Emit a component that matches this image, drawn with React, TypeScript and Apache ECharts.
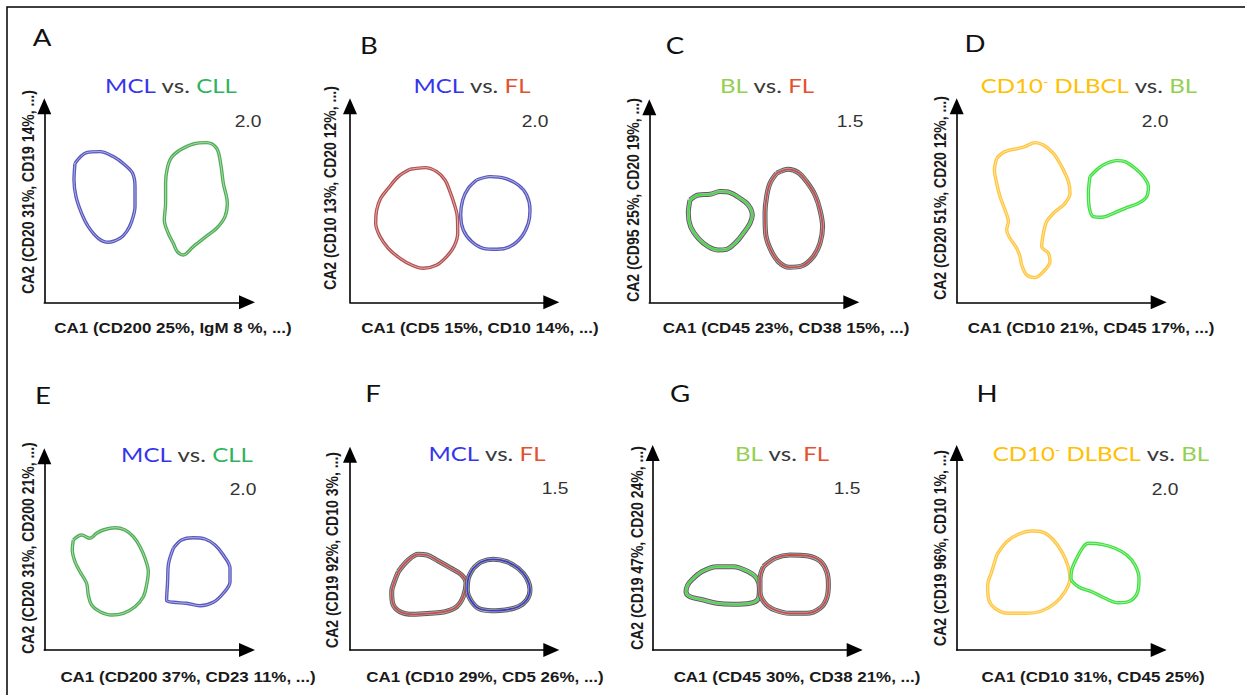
import React, { useEffect, useRef } from 'react';
import * as echarts from 'echarts';

// ---------- DATA ----------
const panelLetters = ['A', 'B', 'C', 'D', 'E', 'F', 'G', 'H'];
const panelRatios = ['2.0', '2.0', '1.5', '2.0', '2.0', '1.5', '1.5', '2.0'];
const titleLeft = ['MCL', 'MCL', 'BL', 'DLBCL', 'MCL', 'MCL', 'BL', 'DLBCL'];
const titleRight = ['CLL', 'FL', 'FL', 'BL', 'CLL', 'FL', 'FL', 'BL'];
const xAxisTitles = [
  'CA1 (CD200 25%, IgM 8 %, ...)',
  'CA1 (CD5 15%, CD10 14%, ...)',
  'CA1 (CD45 23%, CD38 15%, ...)',
  'CA1 (CD10 21%, CD45 17%, ...)',
  'CA1 (CD200 37%, CD23 11%, ...)',
  'CA1 (CD10 29%, CD5 26%, ...)',
  'CA1 (CD45 30%, CD38 21%, ...)',
  'CA1 (CD10 31%, CD45 25%)',
];
const yAxisTitles = [
  'CA2 (CD20 31%, CD19 14%, ...)',
  'CA2 (CD10 13%, CD20 12%, ...)',
  'CA2 (CD95 25%, CD20 19%, ...)',
  'CA2 (CD20 51%, CD20 12%, ...)',
  'CA2 (CD20 31%, CD200 21%, ...)',
  'CA2 (CD19 92%, CD10 3%, ...)',
  'CA2 (CD19 47%, CD20 24%, ...)',
  'CA2 (CD19 96%, CD10 1%, ...)',
];

// contour outlines (CA1, CA2) per panel
const aMCL = [[30.7,139],[42.3,149.7],[55.7,150.7],[69,145.7],[80.7,137.3],[88.3,129],[90.7,115.7],[90.7,95.7],[87.3,80.7],[82.3,70.7],[75.7,64],[64,60],[54,64],[44,75.7],[37.3,89],[31.7,105.7],[29.7,122.3]];
const aCLL = [[135.7,152.3],[149,158.3],[162.3,159.7],[172.3,154],[176.3,139],[179,119],[183,99],[180.7,85.7],[172.3,74],[160.7,65],[149,55.7],[139,47.3],[133,50.7],[129,59],[124,69],[120,82.3],[121.3,99],[121.3,119],[123,134],[127.3,145]];
const bFL = [[60,133],[75,134.7],[86.7,130.7],[95,122.3],[100,110.7],[104,99],[107.3,85.7],[107.7,69],[104,55.7],[96.7,45.7],[86.7,37.3],[73.3,34],[61.7,37.3],[50,44],[38.3,54],[30,65.7],[25.7,79],[26.7,92.3],[30.7,104],[38.3,114],[48.3,125.7]];
const bMCL = [[126.7,122.3],[140,125.7],[155,124],[168.3,117.3],[176.7,107.3],[180,92.3],[178.3,79],[171.7,65.7],[160,55.7],[146.7,53],[133.3,54],[121.7,60.7],[113.3,72.3],[110.7,87.3],[112.7,102.3],[118.3,114]];
const cBL = [[40.7,102.3],[49,107.3],[60.7,108],[70.7,110.7],[80.7,109.7],[90.7,104],[99,97.3],[103,87.3],[100.7,79],[94,69],[87.3,60.7],[77.3,53],[69,52.3],[59,55.7],[49,64],[41.3,75.7],[39,89]];
const cFL = [[127.3,129],[139,133],[149,129.7],[157.3,120.7],[165.7,107.3],[170.7,92.3],[173.3,75.7],[170.7,59],[164,45.7],[152.3,36.3],[140,35],[129,40.7],[120.7,54],[116.3,69],[115.7,89],[117.3,105.7],[120.7,119]];
const dDLBCL = [[40,144],[48.3,150.7],[61.7,154],[68.3,155.7],[78.3,159.7],[86.7,157.3],[96.7,149],[105,135.7],[111.7,120.7],[113.3,109],[108.3,99],[96.7,89],[90,80.7],[86.7,69],[85,55.7],[91.7,49],[93.3,40.7],[86.7,30.7],[78.3,24.7],[70,27.3],[65,37.3],[63.3,45.7],[60,54],[53.3,64],[50,72.3],[51.7,80.7],[48.3,92.3],[43.3,105.7],[40,119],[37.7,132.3]];
const dBL = [[133.3,125.7],[141.7,134],[150,139],[160,141.7],[168.3,140.7],[178.3,134],[186.7,125.7],[191.7,115.7],[190,105.7],[181.7,99],[168.3,94],[156.7,89],[145,85],[136.7,85.7],[132.7,94],[131.7,109]];
const eCLL = [[29,110],[37.3,115],[45.7,111.7],[52.3,116.7],[59,120],[70.7,122.3],[80.7,120],[89,113.3],[95.7,103.3],[100.7,91.7],[104,78.3],[102.3,65],[99,53.3],[90.7,43.3],[79,36.7],[67.3,35],[55.7,38.3],[47.3,45],[44,55],[42.3,66.7],[35.7,78.3],[30.7,88.3],[28,100]];
const eMCL = [[129,101.7],[137.3,110],[149,112.3],[160.7,111],[170.7,105],[179,95],[185.7,81.7],[185.7,68.3],[179,56.7],[169,47.7],[155.7,44.3],[142.3,46.7],[129,47.7],[122.3,50],[123.3,68.3],[124,85]];
const fFL = [[48.3,78.3],[58.3,90],[68.3,95.7],[76.7,95],[88.3,89],[100,82.3],[111.7,75],[116,66.7],[113.3,53.3],[106.7,43.3],[95,38.3],[80,36.7],[63.3,35.7],[50,38.3],[42.7,46.7],[41.7,58.3],[45,70]];
const fMCL = [[123.3,81.7],[131.7,88.3],[143.3,90.7],[156.7,88.3],[168.3,81.7],[176.7,71.7],[180,60],[176.7,50],[168.3,43.3],[155,40],[141.7,39.3],[128.3,41.7],[120.7,50],[117.3,60],[118.3,71.7]];
const gBL = [[39,70],[49,78.3],[64,83.3],[80.7,83.3],[95.7,78.3],[104,71.7],[106.7,61.7],[105.7,51.7],[97.3,46.7],[80.7,45.7],[64,46.7],[50.7,50],[37.3,53.3],[33.3,58.3],[35,65]];
const gFL = [[110.7,83.3],[122.3,91.7],[137.3,95],[154,94.3],[167.3,89],[174,78.3],[175.7,65],[174,51.7],[167.3,41.7],[154,36.7],[137.3,36.7],[122.3,40],[112.3,46.7],[107.3,58.3],[107.3,71.7]];
const hDLBCL = [[40,95],[50,108.3],[61.7,115.7],[75,119],[86.7,117.7],[96.7,110],[105,98.3],[111,85],[113.3,71.7],[108.3,58.3],[98.3,46.7],[85,39],[68.3,36.7],[51.7,36.7],[38.3,41.7],[31.7,51.7],[31,65],[35,78.3]];
const hBL = [[120,91.7],[126.7,103.3],[131.7,106.7],[145,105.7],[158.3,101.7],[170,95],[178.3,85],[182.3,71.7],[181,58.3],[173.3,49],[161.7,47.3],[148.3,51.7],[135,58.3],[121.7,63.3],[114.3,71.7],[115,80]];

const panelContours = [
  [{ name: 'MCL', data: aMCL }, { name: 'CLL', data: aCLL }],
  [{ name: 'FL', data: bFL }, { name: 'MCL', data: bMCL }],
  [{ name: 'BL', data: cBL }, { name: 'FL', data: cFL }],
  [{ name: 'DLBCL', data: dDLBCL }, { name: 'BL', data: dBL }],
  [{ name: 'CLL', data: eCLL }, { name: 'MCL', data: eMCL }],
  [{ name: 'FL', data: fFL }, { name: 'MCL', data: fMCL }],
  [{ name: 'BL', data: gBL }, { name: 'FL', data: gFL }],
  [{ name: 'DLBCL', data: hDLBCL }, { name: 'BL', data: hBL }],
];

// ---------- STYLE / LAYOUT ----------
const titleColors: Record<string, string> = {
  MCL: '#3535ec', CLL: '#2fb35c', FL: '#e3522c', BL: '#92d050', DLBCL: '#ffc000',
};
const lineColors: Record<string, string> = {
  MCL: '#5858c0', CLL: '#4fae55', FL: '#b55050', BL: '#3fe03f', DLBCL: '#ffc640',
};
const grayOutlined = [false, false, true, false, false, true, true, false];
const grayLineColors: Record<string, string> = { MCL: '#3d3dcc', FL: '#cc4a4a', BL: '#3fe03f' };

// origin (ox, oy), arrow tip lengths (lx, ly)
const layout = [
  { ox: 44.3, oy: 302.3, lx: 210.7, ly: 204, letter: [42, 37], title: [171, 85], ratio: [248, 122], xl: [173, 328], yl: [28, 192] },
  { ox: 350, oy: 302.3, lx: 209.3, ly: 204, letter: [369, 45], title: [472, 85], ratio: [535, 122], xl: [480, 328], yl: [330, 188] },
  { ox: 649.3, oy: 302.3, lx: 210, ly: 203, letter: [675, 45], title: [767, 85], ratio: [850, 122], xl: [786, 328], yl: [633, 200] },
  { ox: 956.7, oy: 302.3, lx: 210, ly: 204, letter: [975, 43], title: [1089, 85], ratio: [1155, 122], xl: [1091, 328], yl: [940, 198] },
  { ox: 44.3, oy: 650, lx: 210.7, ly: 201.7, letter: [43, 395], title: [187, 454], ratio: [243, 490], xl: [188, 677], yl: [28, 548] },
  { ox: 350, oy: 650, lx: 209.3, ly: 203.3, letter: [373, 393], title: [487, 453], ratio: [555, 489], xl: [485, 677], yl: [332, 550] },
  { ox: 652.7, oy: 650, lx: 210, ly: 205, letter: [680, 393], title: [782, 453], ratio: [847, 489], xl: [797, 677], yl: [637, 548] },
  { ox: 956.7, oy: 650, lx: 210, ly: 205, letter: [987, 393], title: [1101, 453], ratio: [1165, 490], xl: [1093, 677], yl: [940, 548] },
];
const ARROW = 8;
const SX = 1.2;
const TITLE_FONT = 'Lato, "Open Sans", sans-serif';
const ARIAL = '"Liberation Sans", Arial, sans-serif';

function titleRich(left: string, right: string) {
  const lc = titleColors[left];
  const rc = titleColors[right];
  const base = { fontSize: 20, fontFamily: TITLE_FONT };
  let text = '';
  if (left === 'DLBCL') text += '{l|CD10}{s|-}{l| DLBCL}';
  else text += '{l|' + left + '}';
  text += '{v| vs. }{r|' + right + '}';
  return {
    text,
    rich: {
      l: { ...base, fill: lc },
      s: { fontSize: 12, fontFamily: TITLE_FONT, fill: lc, verticalAlign: 'top' },
      v: { ...base, fill: '#3a3a3a' },
      r: { ...base, fill: rc },
    },
  };
}

export default function App() {
  const ref = useRef<HTMLDivElement>(null);
  useEffect(() => {
    document.body.style.margin = '0';
    if (!ref.current) return;
    const chart = echarts.init(ref.current, undefined, { renderer: 'svg' });

    const grid: any[] = [];
    const xAxis: any[] = [];
    const yAxis: any[] = [];
    const series: any[] = [];
    const graphic: any[] = [];

    graphic.push({
      type: 'rect',
      shape: { x: 7, y: 7, width: 1270, height: 720 },
      style: { fill: 'none', stroke: '#000', lineWidth: 1.5 },
      silent: true,
    });

    layout.forEach((p, i) => {
      const w = p.lx - ARROW;
      const h = p.ly - ARROW;
      grid.push({ left: p.ox, top: p.oy - h, width: w, height: h, containLabel: false });
      const axisCommon = {
        type: 'value',
        gridIndex: i,
        min: 0,
        axisLine: {
          show: true,
          onZero: false,
          symbol: ['none', 'triangle'],
          symbolSize: [14, 16],
          lineStyle: { color: '#000', width: 1.6 },
        },
        axisTick: { show: false },
        axisLabel: { show: false },
        splitLine: { show: false },
      };
      xAxis.push({ ...axisCommon, max: w });
      yAxis.push({ ...axisCommon, max: h });

      panelContours[i].forEach((c) => {
        const closed = c.data.concat([c.data[0]]);
        const base = {
          type: 'line',
          xAxisIndex: i,
          yAxisIndex: i,
          data: closed,
          showSymbol: false,
          symbol: 'none',
          smooth: 0.35,
          silent: true,
          clip: false,
        };
        if (grayOutlined[i]) {
          series.push({ ...base, lineStyle: { color: '#5e5e5e', width: 5 } });
          series.push({ ...base, lineStyle: { color: '#b8b8b8', width: 3 } });
          series.push({ ...base, lineStyle: { color: grayLineColors[c.name], width: 1.8 } });
        } else {
          series.push({ ...base, lineStyle: { color: lineColors[c.name], width: 3.4 } });
          series.push({ ...base, lineStyle: { color: '#ffffff', width: 0.9, opacity: 0.6 } });
        }
      });

      graphic.push({
        type: 'text', x: p.letter[0], y: p.letter[1], scaleX: SX, silent: true,
        style: { text: panelLetters[i], fontSize: 23, fontFamily: TITLE_FONT, fill: '#111', align: 'center', verticalAlign: 'middle' },
      });
      const tr = titleRich(titleLeft[i], titleRight[i]);
      graphic.push({
        type: 'text', x: p.title[0], y: p.title[1], scaleX: SX, silent: true,
        style: { text: tr.text, rich: tr.rich, fontSize: 20, fontFamily: TITLE_FONT, fill: '#3a3a3a', align: 'center', verticalAlign: 'middle' },
      });
      graphic.push({
        type: 'text', x: p.ratio[0], y: p.ratio[1], scaleX: SX, silent: true,
        style: { text: panelRatios[i], fontSize: 16, fontFamily: ARIAL, fill: '#333', align: 'center', verticalAlign: 'middle' },
      });
      graphic.push({
        type: 'text', x: p.xl[0], y: p.xl[1], scaleX: 1.13, silent: true,
        style: { text: xAxisTitles[i], fontSize: 15, fontWeight: 'bold', fontFamily: ARIAL, fill: '#1a1a1a', align: 'center', verticalAlign: 'middle' },
      });
      graphic.push({
        type: 'text', x: p.yl[0], y: p.yl[1], rotation: Math.PI / 2, scaleY: 1.2, silent: true,
        style: { text: yAxisTitles[i], fontSize: 14, fontWeight: 'bold', fontFamily: ARIAL, fill: '#1a1a1a', align: 'center', verticalAlign: 'middle' },
      });
    });

    chart.setOption({
      animation: false,
      backgroundColor: '#ffffff',
      grid,
      xAxis,
      yAxis,
      series,
      graphic,
    });
    return () => chart.dispose();
  }, []);
  return <div ref={ref} style={{ width: 1245, height: 695 }} />;
}
